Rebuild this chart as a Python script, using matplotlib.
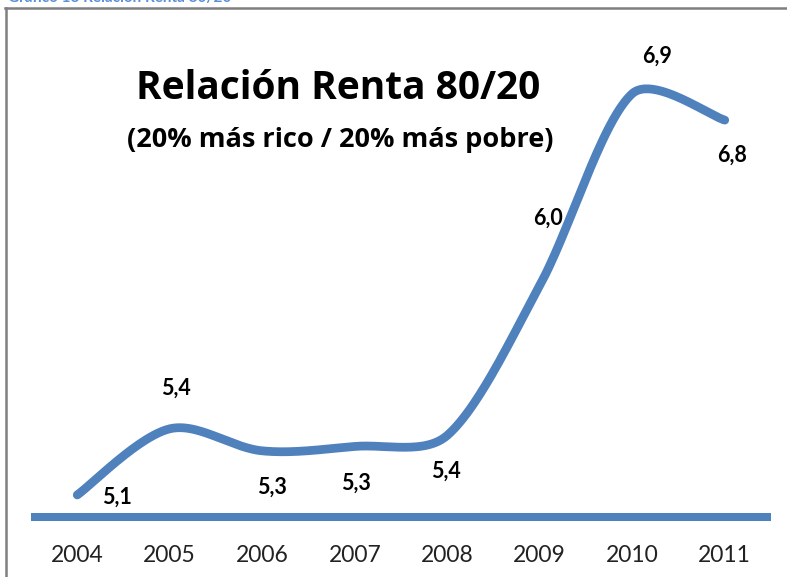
import numpy as np
import matplotlib
matplotlib.use("Agg")
import matplotlib.pyplot as plt
from matplotlib.lines import Line2D

years = ["2004", "2005", "2006", "2007", "2008", "2009", "2010", "2011"]
values = [5.10, 5.40, 5.30, 5.32, 5.37, 6.05, 6.92, 6.80]
labels = ["5,1", "5,4", "5,3", "5,3", "5,4", "6,0", "6,9", "6,8"]
label_offsets = [(40, -2), (6, 41), (10, -36), (1, -37), (-1, -36), (8, 67), (25, 37), (7, -35)]

title = "Relación Renta 80/20"
subtitle = "(20% más rico / 20% más pobre)"
header = "Gráfico 13 Relación Renta 80/20"

BLUE = "#4F81BD"
plt.rcParams['font.family'] = ['Lato', 'DejaVu Sans']

W, H = 787, 577
fig = plt.figure(figsize=(W / 100, H / 100), dpi=100)
ax = fig.add_axes([31 / W, 1 - 517 / H, (771 - 31) / W, (517 - 76) / H])
ax.set_xlim(-0.5, len(values) - 0.5)
ax.set_ylim(5.0, 7.0)

x = np.arange(len(values), dtype=float)
y = np.array(values, dtype=float)

# Excel-like smoothed line: Bezier segments, Catmull-Rom arms shortened next to
# much shorter neighbouring segments (computed in display space)
def smooth(xp, yp, n=50):
    P = ax.transData.transform(np.column_stack([xp, yp]))
    m = len(P)
    arms_f, arms_b = [], []
    for i in range(m):
        prv = P[i - 1] if i > 0 else P[i]
        nxt = P[i + 1] if i < m - 1 else P[i]
        T = (nxt - prv) / 6.0
        db = np.linalg.norm(P[i] - prv)
        df = np.linalg.norm(nxt - P[i])
        ff = 1.0 if db == 0 else min(1.0, np.sqrt(df / db))
        fb = 1.0 if df == 0 else min(1.0, np.sqrt(db / df))
        arms_f.append(T * ff)
        arms_b.append(T * fb)
    out = [P[0]]
    t = np.linspace(0, 1, n)[1:]
    for i in range(m - 1):
        p1, p2 = P[i], P[i + 1]
        c1 = p1 + arms_f[i]
        c2 = p2 - arms_b[i + 1]
        for tt in t:
            out.append(((1 - tt) ** 3) * p1 + 3 * ((1 - tt) ** 2) * tt * c1
                       + 3 * (1 - tt) * tt ** 2 * c2 + tt ** 3 * p2)
    out = ax.transData.inverted().transform(np.array(out))
    return out[:, 0], out[:, 1]

sx, sy = smooth(x, y)
ax.plot(sx, sy, color=BLUE, lw=6.3, solid_capstyle='round', clip_on=False, zorder=3)

for xi, yi, lab, (dx, dy) in zip(x, y, labels, label_offsets):
    ax.annotate(lab, (xi, yi), xytext=(dx, dy), textcoords='offset pixels',
                ha='center', va='center', fontsize=15.5, fontweight='bold', color='#000000')

ax.set_xticks(x)
ax.set_xticklabels(years, fontsize=16.5, color='#222222')
ax.tick_params(axis='x', length=0, pad=20)
ax.set_yticks([])
for s in ['top', 'right', 'left']:
    ax.spines[s].set_visible(False)
ax.spines['bottom'].set_color(BLUE)
ax.spines['bottom'].set_linewidth(5.8)
ax.spines['bottom'].set_capstyle('butt')

fig.text(338 / W, 1 - 99 / H, title, ha='center', va='baseline', fontsize=28,
         fontweight='bold', family=['Open Sans', 'DejaVu Sans'])
fig.text(340 / W, 1 - 147 / H, subtitle, ha='center', va='baseline', fontsize=19.5,
         fontweight='bold', family=['Open Sans', 'DejaVu Sans'])

fig.text(8 / W, 1 - 2 / H, header, ha='left', va='baseline', fontsize=11, fontweight='bold', color='#5B8FD6')

# outer frame
fig.add_artist(Line2D([5 / W, 1.0], [1 - 8 / H, 1 - 8 / H], transform=fig.transFigure, color='#7F7F7F', lw=1.8))
fig.add_artist(Line2D([6 / W, 6 / W], [1 - 8 / H, 0.0], transform=fig.transFigure, color='#7F7F7F', lw=1.8))

fig.savefig("out.png", dpi=100)
